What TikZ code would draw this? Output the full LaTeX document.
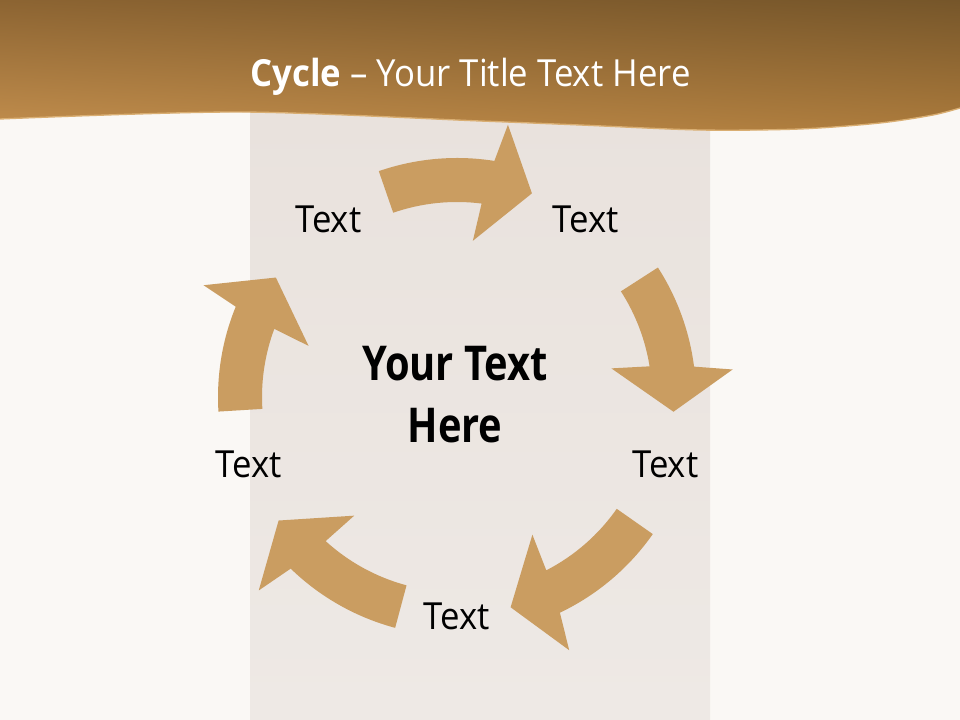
\documentclass[tikz,border=0pt]{standalone}
\usepackage{fontspec}
\setmainfont{Open Sans}
\newfontfamily\slidefont[FakeStretch=0.93, Ligatures=TeX]{Open Sans}
\newfontfamily\hubfont[FakeStretch=0.83]{Open Sans}
\usetikzlibrary{shadings}

\definecolor{slidebg}{HTML}{FAF8F5}
\definecolor{bandtop}{HTML}{E9E2DD}
\definecolor{bandbot}{HTML}{EEE9E5}
\definecolor{arrowtan}{HTML}{CA9D61}
\definecolor{bannerul}{HTML}{8C6432}
\definecolor{bannerur}{HTML}{76562A}
\definecolor{bannerll}{HTML}{C28E4D}
\definecolor{bannerlr}{HTML}{AC7B3C}
\definecolor{bannerrim}{HTML}{D9AE72}

\begin{document}
\begin{tikzpicture}[x=0.75pt,y=0.75pt]

    \tikzset{labelstyle/.style={font=\slidefont\fontsize{28}{34}\selectfont, inner sep=1pt},
             hubstyle/.style={font=\hubfont\fontsize{36}{46.5}\selectfont\bfseries, align=center, inner sep=1pt},
             titlestyle/.style={font=\slidefont\fontsize{28}{34}\selectfont, text=white, inner sep=1pt},
             arrowstyle/.style={fill=arrowtan}}

    \useasboundingbox (0,0) rectangle (960,720);
    \fill[slidebg] (0,0) rectangle (960,720);
    \shade[top color=bandtop, bottom color=bandbot] (250,0) rectangle (710,615);

    % banner with wavy lower edge
    \shade[upper left=bannerul, upper right=bannerur, lower left=bannerll, lower right=bannerlr]
        plot[smooth] coordinates {(0,601) (240,608) (480,599) (580,595) (700,590) (800,591) (880,597) (933,605) (960,612)}
        -- (960,720) -- (0,720) -- cycle;
    \draw[bannerrim, line width=1pt]
        plot[smooth] coordinates {(0,601) (240,608) (480,599) (580,595) (700,590) (800,591) (880,597) (933,605) (960,612)};

    \node[titlestyle] (title) at (470.5,643) {\textbf{Cycle} -- Your Title Text Here};

    \coordinate (c) at (457,323);
    \begin{scope}[shift={(c)}]
        % head angle / tail angle
        \foreach \h/\t in {89.5/109.1, 15.8/32.8, -56/-35, 234.4/255, 166.3/183.5}
            \fill[arrowstyle] (\t:239) arc[start angle=\t, end angle=\h-8.5, radius=239]
                -- ({\h-10.1}:277) -- ({\h-19.7}:217) -- ({\h-5.3}:157) -- ({\h-6.75}:195)
                arc[start angle=\h-6.75, end angle=\t, radius=195] -- cycle;

        \node[labelstyle] (texttl) at (126:219) {Text};
        \node[labelstyle] (texttr) at (54:219) {Text};
        \node[labelstyle] (textr) at (-18:219) {Text};
        \node[labelstyle] (textb) at (-90:219) {Text};
        \node[labelstyle] (textl) at (198:219) {Text};

        \node[hubstyle] (hub) at (-2,2) {Your Text\\Here};
    \end{scope}
\end{tikzpicture}
\end{document}
